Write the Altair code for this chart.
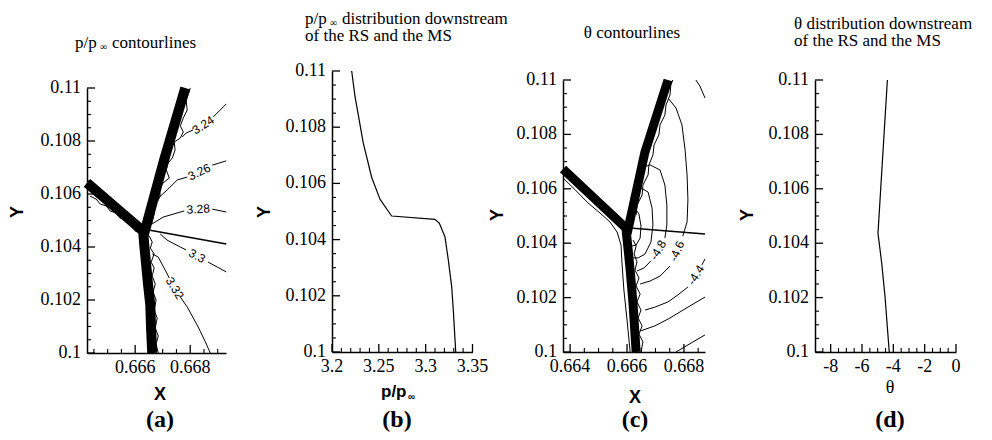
import altair as alt
import pandas as pd

SERIF = "Liberation Serif"
SANS = "Liberation Sans"

# ---------------- shared y axis ----------------
Y_DOMAIN = [0.1, 0.11]
Y_MAJOR = [0.1, 0.102, 0.104, 0.106, 0.108, 0.11]
Y_LABELS = ["0.1", "0.102", "0.104", "0.106", "0.108", "0.11"]
Y_MINOR = [0.1005, 0.101, 0.1015, 0.1025, 0.103, 0.1035, 0.1045, 0.105, 0.1055,
           0.1065, 0.107, 0.1075, 0.1085, 0.109, 0.1095]

# ---------------- (a) p/p_inf contour lines ----------------
A_X_DOMAIN = [0.66425, 0.6693]
A_X_MAJOR = [0.666, 0.668]
A_X_LABELS = ["0.666", "0.668"]
A_X_MINOR = [0.6645, 0.665, 0.6655, 0.6665, 0.667, 0.6675, 0.6685, 0.669]

A_INC_MACH_X = [0.66425, 0.66527, 0.66629, 0.66633, 0.66640, 0.66647, 0.66655, 0.66658, 0.66662]
A_INC_MACH_Y = [0.10642, 0.10551, 0.10460, 0.10408, 0.10332, 0.10257, 0.10181, 0.10087, 0.10000]
A_REFL_X = [0.66631, 0.66705, 0.66782]
A_REFL_Y = [0.10445, 0.10728, 0.11000]
A_SLIP_X = [0.66629, 0.66931]
A_SLIP_Y = [0.10468, 0.10411]

A_CONTOURS = {
    "3.24a": ([0.66771, 0.66785, 0.66811], [0.10815, 0.10830, 0.10842]),
    "3.24b": ([0.66884, 0.66909, 0.66931], [0.10891, 0.10917, 0.10940]),
    "3.26a": ([0.66684, 0.66716, 0.66753, 0.66789], [0.10585, 0.10615, 0.10653, 0.10664]),
    "3.26b": ([0.66880, 0.66931], [0.10709, 0.10725]),
    "3.28a": ([0.66655, 0.66702, 0.66778], [0.10483, 0.10513, 0.10536]),
    "3.28b": ([0.66880, 0.66931], [0.10543, 0.10532]),
    "3.3a": ([0.66691, 0.66716, 0.66764, 0.66785], [0.10449, 0.10426, 0.10400, 0.10389]),
    "3.3b": ([0.66865, 0.66931], [0.10343, 0.10306]),
    "3.32a": ([0.66662, 0.66684, 0.66709, 0.66724], [0.10374, 0.10362, 0.10313, 0.10283]),
    "3.32b": ([0.66764, 0.66789, 0.66829, 0.66855, 0.66873], [0.10211, 0.10174, 0.10098, 0.10042, 0.10000]),
}
# ragged small contours hugging the shocks
A_LACE = {
    "refl": ([0.66647, 0.66662, 0.66669, 0.66658, 0.66680, 0.66691, 0.66687, 0.66705, 0.66724, 0.66713,
              0.66720, 0.66735, 0.66745, 0.66742, 0.66764, 0.66775, 0.66764, 0.66775, 0.66789, 0.66785,
              0.66796, 0.66800],
             [0.10472, 0.10494, 0.10525, 0.10555, 0.10570, 0.10592, 0.10623, 0.10645, 0.10660, 0.10691,
              0.10717, 0.10736, 0.10766, 0.10796, 0.10811, 0.10834, 0.10857, 0.10887, 0.10917, 0.10955,
              0.10985, 0.11000]),
    "mach": ([0.66651, 0.66662, 0.66655, 0.66669, 0.66658, 0.66669, 0.66662, 0.66673, 0.66665, 0.66676,
              0.66669, 0.66680, 0.66673, 0.66684, 0.66676, 0.66684],
             [0.10442, 0.10419, 0.10396, 0.10374, 0.10343, 0.10321, 0.10291, 0.10260, 0.10230, 0.10200,
              0.10162, 0.10132, 0.10094, 0.10064, 0.10034, 0.10000]),
    "inc": ([0.66436, 0.66458, 0.66473, 0.66495, 0.66509, 0.66531, 0.66545, 0.66567, 0.66582, 0.66604],
            [0.10592, 0.10581, 0.10562, 0.10555, 0.10536, 0.10528, 0.10509, 0.10502, 0.10483, 0.10457]),
}
A_LABEL_TEXT = ["3.24", "3.26", "3.28", "3.3", "3.32"]
A_LABEL_X = [0.66847, 0.66833, 0.66829, 0.66825, 0.66744]
A_LABEL_Y = [0.10860, 0.10683, 0.10543, 0.10366, 0.10245]
A_LABEL_ANGLE = [327, 334, 357, 28, 59]

# ---------------- (b) p/p_inf downstream ----------------
B_X_DOMAIN = [3.2, 3.35]
B_X_MAJOR = [3.2, 3.25, 3.3, 3.35]
B_X_LABELS = ["3.2", "3.25", "3.3", "3.35"]
B_X_MINOR = [3.21, 3.22, 3.23, 3.24, 3.26, 3.27, 3.28, 3.29, 3.31, 3.32, 3.33, 3.34]
B_P = [3.2210, 3.2246, 3.2334, 3.2424, 3.2512, 3.2584, 3.2637, 3.3100, 3.3146,
       3.3206, 3.3242, 3.3278, 3.3295, 3.3321]
B_Y = [0.11, 0.10909, 0.10743, 0.10621, 0.10544, 0.10509, 0.10484, 0.10472, 0.10458,
       0.10410, 0.10327, 0.10232, 0.10149, 0.1]

# ---------------- (c) theta contour lines ----------------
C_X_DOMAIN = [0.66375, 0.66874]
C_X_MAJOR = [0.664, 0.666, 0.668]
C_X_LABELS = ["0.664", "0.666", "0.668"]
C_X_MINOR = [0.6645, 0.665, 0.6655, 0.6665, 0.667, 0.6675, 0.6685]

C_INC_MACH_X = [0.66375, 0.66596, 0.66604, 0.66611, 0.66621, 0.66632]
C_INC_MACH_Y = [0.10673, 0.10456, 0.10375, 0.10301, 0.10180, 0.10000]
C_REFL_X = [0.66600, 0.66663, 0.66744]
C_REFL_Y = [0.10434, 0.10735, 0.11000]
C_SLIP_X = [0.66611, 0.66874]
C_SLIP_Y = [0.10456, 0.10434]

C_CONTOURS = {
    "A": ([0.66614, 0.66628, 0.66642, 0.66649, 0.66646, 0.66632, 0.66618],
          [0.10515, 0.10529, 0.10507, 0.10463, 0.10419, 0.10393, 0.10390]),
    "B": ([0.66625, 0.66649, 0.66674, 0.66688, 0.66691, 0.66684, 0.66663, 0.66639, 0.66621],
          [0.10577, 0.10603, 0.10588, 0.10529, 0.10467, 0.10404, 0.10360, 0.10346, 0.10346]),
    "C1": ([0.66646, 0.66681, 0.66716, 0.66733, 0.66740, 0.66740, 0.66733],
           [0.10676, 0.10688, 0.10669, 0.10614, 0.10540, 0.10467, 0.10419]),
    "C2": ([0.66684, 0.66660, 0.66635], [0.10335, 0.10309, 0.10298]),
    "D1": ([0.66744, 0.66772, 0.66793, 0.66804, 0.66811, 0.66814, 0.66811, 0.66796],
           [0.10934, 0.10897, 0.10835, 0.10743, 0.10651, 0.10559, 0.10478, 0.10426]),
    "D2": ([0.66751, 0.66716, 0.66681, 0.66646], [0.10316, 0.10279, 0.10261, 0.10250]),
    "E1": ([0.66874, 0.66863], [0.10342, 0.10320]),
    "E2": ([0.66814, 0.66779, 0.66744, 0.66698, 0.66663], [0.10239, 0.10210, 0.10184, 0.10165, 0.10154]),
    "arc": ([0.66842, 0.66856, 0.66874], [0.11, 0.10978, 0.10934]),
    "F": ([0.66646, 0.66698, 0.66751, 0.66814, 0.66874], [0.10077, 0.10096, 0.10125, 0.10165, 0.10202]),
    "G": ([0.66772, 0.66814, 0.66874], [0.1, 0.10026, 0.10063]),
    "H": ([0.66375, 0.66418, 0.66463, 0.66505, 0.66540, 0.66565, 0.66579, 0.66582, 0.66589, 0.66600, 0.66611],
          [0.10640, 0.10596, 0.10548, 0.10511, 0.10478, 0.10441, 0.10393, 0.10331, 0.10228, 0.10118, 0.1]),
}
C_LACE = {
    "mach": ([0.66621, 0.66632, 0.66625, 0.66635, 0.66628, 0.66642, 0.66632, 0.66646, 0.66635, 0.66649,
              0.66639, 0.66653, 0.66642, 0.66656, 0.66649],
             [0.10412, 0.10390, 0.10360, 0.10331, 0.10301, 0.10272, 0.10243, 0.10213, 0.10184, 0.10154,
              0.10125, 0.10096, 0.10066, 0.10037, 0.10000]),
    "refl": ([0.66632, 0.66635, 0.66653, 0.66656, 0.66674, 0.66677, 0.66691, 0.66695, 0.66712, 0.66716,
              0.66733, 0.66737, 0.66751, 0.66754, 0.66761],
             [0.10504, 0.10540, 0.10577, 0.10614, 0.10651, 0.10688, 0.10724, 0.10761, 0.10798, 0.10835,
              0.10871, 0.10908, 0.10945, 0.10982, 0.11000]),
}
C_LABEL_TEXT = ["-4.8", "-4.6", "-4.4"]
C_LABEL_X = [0.66709, 0.66775, 0.66842]
C_LABEL_Y = [0.10375, 0.10371, 0.10283]
C_LABEL_ANGLE = [301, 293, 302]

# ---------------- (d) theta downstream ----------------
D_X_DOMAIN = [-9, 0]
D_X_MAJOR = [-8, -6, -4, -2, 0]
D_X_LABELS = ["-8", "-6", "-4", "-2", "0"]
D_X_MINOR = [-8.5, -7.5, -7, -6.5, -5.5, -5, -4.5, -3.5, -3, -2.5, -1.5, -1, -0.5]
D_T = [-4.38, -4.98, -4.74, -4.53, -4.26]
D_Y = [0.11, 0.10436, 0.10326, 0.10203, 0.1]


def seg_df(segments):
    rows = []
    for name, (xs, ys) in segments.items():
        for i, (x, y) in enumerate(zip(xs, ys)):
            rows.append({"seg": name, "ord": i, "x": x, "y": y})
    return pd.DataFrame(rows)


def axis_y():
    return alt.Axis(values=Y_MAJOR, ticks=False, grid=False, domainColor="black", domainWidth=1.5,
                    labels=False, title=None)


def axis_x(values):
    return alt.Axis(values=values, ticks=False, grid=False, domainColor="black", domainWidth=1.5,
                    labels=False, title=None)


class Panel:
    def __init__(self, x_domain, x_len, height, y_top, x_major):
        self.xs = alt.Scale(domain=x_domain, range=[0, x_len], nice=False, zero=False)
        self.ys = alt.Scale(domain=Y_DOMAIN, range=[height, y_top], nice=False, zero=False)
        self.xa = axis_x(x_major)
        self.ya = axis_y()
        self.h = height

    def X(self, f):
        return alt.X(f, scale=self.xs, axis=self.xa)

    def Y(self, f):
        return alt.Y(f, scale=self.ys, axis=self.ya)

    def ticks(self, x_major, x_labels, x_minor):
        h = self.h
        return [
            alt.Chart(pd.DataFrame({"v": Y_MAJOR})).mark_rule(color="black", strokeWidth=1.3).encode(
                y=self.Y("v:Q"), x=alt.value(0), x2=alt.value(8)),
            alt.Chart(pd.DataFrame({"v": Y_MINOR})).mark_rule(color="black", strokeWidth=1.1).encode(
                y=self.Y("v:Q"), x=alt.value(0), x2=alt.value(4)),
            alt.Chart(pd.DataFrame({"v": x_major})).mark_rule(color="black", strokeWidth=1.3).encode(
                x=self.X("v:Q"), y=alt.value(h), y2=alt.value(h - 8)),
            alt.Chart(pd.DataFrame({"v": x_minor})).mark_rule(color="black", strokeWidth=1.1).encode(
                x=self.X("v:Q"), y=alt.value(h), y2=alt.value(h - 4)),
            alt.Chart(pd.DataFrame({"v": Y_MAJOR, "lab": Y_LABELS})).mark_text(
                font=SERIF, fontSize=18, align="right", baseline="middle", color="black").encode(
                y=self.Y("v:Q"), x=alt.value(-6), text="lab:N"),
            alt.Chart(pd.DataFrame({"v": x_major, "lab": x_labels})).mark_text(
                font=SERIF, fontSize=18, align="center", baseline="top", color="black").encode(
                x=self.X("v:Q"), y=alt.value(h + 6), text="lab:N"),
        ]

    def lines(self, df, width):
        return alt.Chart(df).mark_line(color="black", strokeWidth=width, strokeCap="butt",
                                       strokeJoin="round").encode(
            x=self.X("x:Q"), y=self.Y("y:Q"), detail="seg:N", order="ord:Q")

    def clabels(self, texts, xv, yv, angles):
        out = []
        for t, x, y, a in zip(texts, xv, yv, angles):
            out.append(alt.Chart(pd.DataFrame({"x": [x], "y": [y]})).mark_text(
                text=t, font=SANS, fontSize=12, angle=a, color="black", baseline="middle").encode(
                x=self.X("x:Q"), y=self.Y("y:Q")))
        return out


def txt(s, x, y, size, font=SERIF, weight="normal", align="center", angle=0):
    return alt.Chart(pd.DataFrame({"k": [0]})).mark_text(
        text=s, font=font, fontSize=size, fontWeight=weight, align=align, baseline="middle",
        angle=angle, color="black").encode(x=alt.value(x), y=alt.value(y))


# ---------- panel (a) ----------
HA = 282
P = Panel(A_X_DOMAIN, 139, HA, 17, A_X_MAJOR)
anchor = alt.Chart(pd.DataFrame({"k": [0]})).mark_rect(opacity=0, color="white").encode(
    x=alt.value(-79), x2=alt.value(897), y=alt.value(-63), y2=alt.value(357))
pa_layers = P.ticks(A_X_MAJOR, A_X_LABELS, A_X_MINOR) + [
    anchor,
    P.lines(seg_df(A_CONTOURS), 1.0),
    P.lines(seg_df(A_LACE), 1.0),
    P.lines(seg_df({"slip": (A_SLIP_X, A_SLIP_Y)}), 1.6),
    P.lines(seg_df({"im": (A_INC_MACH_X, A_INC_MACH_Y), "rs": (A_REFL_X, A_REFL_Y)}), 10),
] + P.clabels(A_LABEL_TEXT, A_LABEL_X, A_LABEL_Y, A_LABEL_ANGLE) + [
    txt("p/p", -12, -28, 17, align="left"),
    txt("\u221e", 13, -24, 10, align="left"),
    txt("contourlines", 25, -28, 17, align="left"),
    txt("Y", -69, 141, 18, font=SANS, weight="bold", angle=270),
    txt("X", 73, 324, 18, font=SANS, weight="bold"),
    txt("(a)", 73, 349, 24, weight="bold"),
]
pa = alt.layer(*pa_layers).properties(width=245, height=HA)

# ---------- panel (b) ----------
HB = 281
P = Panel(B_X_DOMAIN, 140.5, HB, 0, B_X_MAJOR)
b_df = pd.DataFrame({"x": B_P, "y": B_Y, "ord": list(range(len(B_P))), "seg": "b"})
pb_layers = P.ticks(B_X_MAJOR, B_X_LABELS, B_X_MINOR) + [P.lines(b_df, 1.2)] + [
    txt("p/p", -27, -52, 17, align="left"),
    txt("\u221e", -2, -48, 10, align="left"),
    txt("distribution downstream", 10, -52, 17, align="left"),
    txt("of the RS and the MS", -27, -35, 17, align="left"),
    txt("Y", -67, 141, 18, font=SANS, weight="bold", angle=270),
    txt("p/p", 49, 321, 17, font=SANS, weight="bold", align="left"),
    txt("\u221e", 76, 326, 10, font=SANS, weight="bold", align="left"),
    txt("(b)", 65, 349, 24, weight="bold"),
]
pb = alt.layer(*pb_layers).properties(width=231, height=HB)

# ---------- panel (c) ----------
HC = 281
P = Panel(C_X_DOMAIN, 142, HC, 9, C_X_MAJOR)
pc_layers = P.ticks(C_X_MAJOR, C_X_LABELS, C_X_MINOR) + [
    P.lines(seg_df(C_CONTOURS), 1.0),
    P.lines(seg_df(C_LACE), 1.0),
    P.lines(seg_df({"slip": (C_SLIP_X, C_SLIP_Y)}), 1.6),
    P.lines(seg_df({"im": (C_INC_MACH_X, C_INC_MACH_Y), "rs": (C_REFL_X, C_REFL_Y)}), 9),
] + P.clabels(C_LABEL_TEXT, C_LABEL_X, C_LABEL_Y, C_LABEL_ANGLE) + [
    txt("\u03b8 contourlines", 69, -38, 17),
    txt("Y", -65, 144, 18, font=SANS, weight="bold", angle=270),
    txt("X", 72, 327, 18, font=SANS, weight="bold"),
    txt("(c)", 72, 349, 24, weight="bold"),
]
pc = alt.layer(*pc_layers).properties(width=252, height=HC)

# ---------- panel (d) ----------
HD = 281
P = Panel(D_X_DOMAIN, 141, HD, 9, D_X_MAJOR)
d_df = pd.DataFrame({"x": D_T, "y": D_Y, "ord": list(range(len(D_T))), "seg": "d"})
pd_layers = P.ticks(D_X_MAJOR, D_X_LABELS, D_X_MINOR) + [P.lines(d_df, 1.2)] + [
    txt("\u03b8 distribution downstream", -21, -47, 17, align="left"),
    txt("of the RS and the MS", -21, -30, 17, align="left"),
    txt("Y", -67, 144, 18, font=SANS, weight="bold", angle=270),
    txt("\u03b8", 75, 317, 18),
    txt("(d)", 75, 349, 24, weight="bold"),
]
pdd = alt.layer(*pd_layers).properties(width=141, height=HD)

chart = alt.hconcat(pa, pb, pc, pdd, spacing=0, bounds="flush").properties(
    padding=0).configure_view(strokeWidth=0)

chart.save("out.html", embed_options={"renderer": "svg", "actions": False})
